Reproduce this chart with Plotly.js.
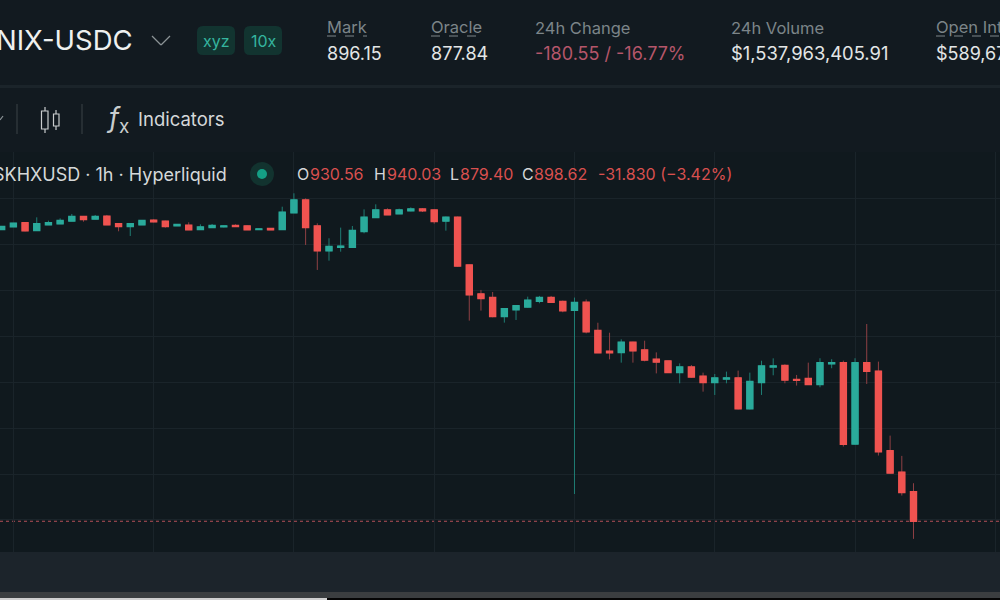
<!DOCTYPE html>
<html>
<head>
<meta charset="utf-8">
<script src="https://cdn.plot.ly/plotly-3.0.1.min.js"></script>
<style>
html, body { margin: 0; padding: 0; background: #121a20; overflow: hidden; }
#chart { width: 1000px; height: 600px; }
</style>
</head>
<body>
<div id="chart"></div>
<script>
// hourly candles
var open = [1216.7,1219.6,1223.6,1215.6,1221.7,1222.8,1225.7,1230.5,1227.9,1230.8,1222.5,1219.9,1221.7,1226.5,1225.4,1220.7,1221,1216.7,1218.8,1219.6,
  1220.7,1220.3,1216.7,1217.4,1216.7,1234.8,1248.6,1220.3,1193.4,1197.1,1197.1,1214.5,1229.7,1237.7,1233.7,1237,1238.8,1237.7,1225.7,1229.7,
  1177.8,1146.2,1142.3,1121.9,1129.2,1132.1,1138.3,1142.3,1137.9,1128.5,1137.1,1106.2,1083.7,1082.6,1093.5,1085.2,1075,1073.2,1060.8,1066.6,
  1056.5,1049.9,1053.6,1054.7,1021.3,1049.9,1066.9,1068.2,1052.9,1054,1047.8,1070.3,1071.1,982.9,1071.1,1062,975.2,952,930.56]
var high = [1220.3,1223.6,1223.9,1229.7,1226.1,1228.6,1233.4,1231.2,1232.3,1232.3,1223.2,1223.2,1226.8,1227.6,1226.1,1222.1,1224.3,1222.1,1222.5,1221,
  1222.1,1221,1217.4,1218.1,1241.3,1255.9,1250.4,1223.2,1206.9,1218.5,1220.3,1238.4,1243.9,1239.5,1239.2,1240.6,1239.9,1238.4,1230.5,1230.5,
  1178.2,1150.6,1148.4,1130.6,1133.9,1143.3,1144.1,1144.1,1139,1142.3,1140.3,1114.9,1104,1096.8,1094.2,1095.3,1082.6,1073.5,1070.6,1068.8,
  1060.5,1059,1061.6,1062.7,1060.5,1073.5,1076.1,1069.6,1058,1071.4,1076.2,1075.1,1073.6,1076.2,1113.5,1072.5,991.9,969.8,940.03]
var low = [1215.9,1219.6,1214.5,1215.2,1221.4,1222.8,1225.7,1225,1227.6,1221.4,1214.5,1209.4,1221.7,1224.3,1218.5,1220.3,1215.9,1215.9,1218.1,1218.8,
  1219.2,1215.9,1216.3,1215.9,1216.7,1234.8,1199.6,1172.4,1182.5,1192.3,1196.7,1212.3,1229,1232.3,1233.4,1236.3,1235.5,1222.8,1215.2,1176,
  1117.2,1128.1,1120.8,1115,1117.9,1131.4,1136.1,1136.8,1126.3,928.3,1103.3,1082.3,1075,1071.4,1071.4,1072.8,1059.7,1060.1,1048.9,1055,
  1039.8,1036.2,1048.9,1020.5,1020.5,1036.2,1057.6,1048.9,1046.4,1047.1,1044.6,1065.3,980,982.1,1048.2,970.2,950.9,926.6,879.4]
var close = [1219.6,1223.2,1215.2,1222.5,1223.6,1226.1,1230.5,1227.6,1230.5,1221.7,1219.9,1222.5,1226.1,1225,1219.9,1221.7,1216.3,1219.2,1220.7,1220.3,
  1219.9,1216.3,1217,1216.3,1235.2,1248.6,1218.8,1193.4,1197.8,1198.2,1215.2,1229.7,1237.7,1232.6,1237.7,1238.8,1237,1225.4,1229.7,1176.7,
  1145.5,1141.5,1121.9,1129.9,1133.2,1139.3,1142.3,1137.2,1128.1,1136.8,1105.1,1082.3,1082.3,1093.5,1084.4,1074.3,1072.1,1060.8,1066.6,1055.8,
  1049.9,1054.7,1054.7,1021.3,1050.7,1067.7,1067.7,1052.6,1052.2,1047.8,1071.1,1071.1,982.5,1071.1,1062,974.5,951.3,929.9,898.62]
var lastPrice = 898.62
var gridPrices = [900,950,1000,1050,1100,1150,1200,1250,1300]
var gridHours = [1,13,25,37,49,61,73,85]

var hours = open.map(function(v, i) { return i })
var bodyHigh = open.map(function(v, i) { return Math.max(v, close[i]) })
var bodyLow = open.map(function(v, i) { return Math.min(v, close[i]) })

var UP = '#2aaa9b'
var DOWN = '#ef5350'
var UP_WICK = '#1f7d74'
var DOWN_WICK = '#8f4044'
var CHART_BG = '#10191e'
var TOP_BG = '#121a20'
var GREY = '#7c8589'
var LIGHT = '#e3e6e6'
var FONT = 'Inter, "Noto Sans", sans-serif'

// wicks underneath, bright bodies on top
var wicks = {
  type: 'candlestick', x: hours, open: open, high: high, low: low, close: close,
  whiskerwidth: 0, hoverinfo: 'skip', showlegend: false,
  increasing: {line: {color: UP_WICK, width: 1}, fillcolor: UP_WICK},
  decreasing: {line: {color: DOWN_WICK, width: 1}, fillcolor: DOWN_WICK}
}
var bodies = {
  type: 'candlestick', x: hours, open: open, high: bodyHigh, low: bodyLow, close: close,
  whiskerwidth: 0, hoverinfo: 'skip', showlegend: false,
  increasing: {line: {color: UP, width: 1.7}, fillcolor: UP},
  decreasing: {line: {color: DOWN, width: 1.7}, fillcolor: DOWN}
}

// page pixel to paper coords, the figure has no margins
function px(x) { return x / 1000 }
function py(y) { return 1 - y / 600 }

function txt(x, y, text, size, color, anchor) {
  return {
    xref: 'paper', yref: 'paper', x: px(x), y: py(y), text: text, showarrow: false,
    xanchor: anchor || 'left', yanchor: 'middle', align: 'left', borderpad: 0,
    font: {family: FONT, size: size, color: color}
  }
}

var annotations = [
  txt(134, 40, 'NIX-USDC', 27.5, '#eef0ef', 'right'),
  txt(202, 41, 'xyz', 16, '#35b59f'),
  txt(250, 41, '10x', 16, '#35b59f'),
  txt(326, 27, 'Mark', 16.5, GREY),
  txt(326, 53, '896.15', 18, LIGHT),
  txt(430, 27, 'Oracle', 16.5, GREY),
  txt(430, 53, '877.84', 18, LIGHT),
  txt(534, 28, '24h Change', 16.5, GREY),
  txt(534, 53, '-180.55 / -16.77%', 18, '#b5566a'),
  txt(730, 28, '24h Volume', 16.5, GREY),
  txt(730, 53, '$1,537,963,405.91', 18.4, LIGHT),
  txt(935, 27, 'Open Interest', 16.5, GREY),
  txt(935, 53, '$589,67', 18, LIGHT),
  txt(105, 120, '<i>f</i><sub>x</sub>', 27, '#c9cdce'),
  txt(137, 119, 'Indicators', 18.5, '#d5d8d9'),
  txt(228, 174, 'SKHXUSD · 1h · Hyperliquid', 18, '#d5d8d9', 'right'),
  txt(296, 174, 'O', 16, '#d5d8d9'),
  txt(309, 174, '930.56', 16, '#d9504f'),
  txt(373, 174, 'H', 16, '#d5d8d9'),
  txt(386, 174, '940.03', 16, '#d9504f'),
  txt(449, 174, 'L', 16, '#d5d8d9'),
  txt(459, 174, '879.40', 16, '#d9504f'),
  txt(521, 174, 'C', 16, '#d5d8d9'),
  txt(533, 174, '898.62', 16, '#d9504f'),
  txt(597, 174, '-31.830 (−3.42%)', 16, '#d9504f')
]

function box(x0, y0, x1, y1, color) {
  return {type: 'rect', xref: 'paper', yref: 'paper', layer: 'below', x0: px(x0), x1: px(x1), y0: py(y0), y1: py(y1),
    fillcolor: color, line: {width: 0}}
}
function seg(x0, y0, x1, y1, color, width, dash) {
  return {type: 'line', xref: 'paper', yref: 'paper', layer: 'above', x0: px(x0), x1: px(x1), y0: py(y0), y1: py(y1),
    line: {color: color, width: width || 1, dash: dash || 'solid'}}
}
function badge(x0, y0, x1, y1, r, color) {
  var d = 'M' + px(x0 + r) + ',' + py(y0) + ' L' + px(x1 - r) + ',' + py(y0) +
    ' Q' + px(x1) + ',' + py(y0) + ' ' + px(x1) + ',' + py(y0 + r) +
    ' L' + px(x1) + ',' + py(y1 - r) + ' Q' + px(x1) + ',' + py(y1) + ' ' + px(x1 - r) + ',' + py(y1) +
    ' L' + px(x0 + r) + ',' + py(y1) + ' Q' + px(x0) + ',' + py(y1) + ' ' + px(x0) + ',' + py(y1 - r) +
    ' L' + px(x0) + ',' + py(y0 + r) + ' Q' + px(x0) + ',' + py(y0) + ' ' + px(x0 + r) + ',' + py(y0) + ' Z'
  return {type: 'path', xref: 'paper', yref: 'paper', layer: 'below', path: d, fillcolor: color, line: {width: 0}}
}
function dot(cx, cy, r, color) {
  return {type: 'circle', xref: 'paper', yref: 'paper', layer: 'above', x0: px(cx - r), x1: px(cx + r), y0: py(cy - r), y1: py(cy + r),
    fillcolor: color, line: {width: 0}}
}

var ICON = '#c9cdce'
var shapes = [
  box(0, 85, 1000, 88, '#1b242a'),
  box(0, 552, 1000, 592, '#1c242b'),
  box(0, 592, 1000, 598, '#3b3e40'),
  box(0, 598, 1000, 600, '#050505'),
  box(0, 598, 327, 600, '#cfcfcf'),
  badge(197, 26, 235, 55, 6, '#123430'),
  badge(244, 26, 282, 55, 6, '#123430'),
  seg(152, 36, 161, 45, '#8b9396', 1.3),
  seg(161, 45, 170, 36, '#8b9396', 1.3),
  seg(327, 36, 367, 36, GREY, 1, 'dash'),
  seg(431, 36, 482, 36, GREY, 1, 'dash'),
  seg(936, 36, 1000, 36, GREY, 1, 'dash'),
  seg(0, 120, 3, 116, '#8b9396', 1.2),
  seg(17, 104, 17, 134, '#3a4247'),
  seg(82, 104, 82, 134, '#3a4247'),
  // candle icon
  {type: 'rect', xref: 'paper', yref: 'paper', layer: 'above', x0: px(41.5), x1: px(48), y0: py(111), y1: py(129), line: {color: ICON, width: 1.2}},
  {type: 'rect', xref: 'paper', yref: 'paper', layer: 'above', x0: px(53.5), x1: px(59), y0: py(114), y1: py(126), line: {color: ICON, width: 1.2}},
  seg(45, 107, 45, 111, ICON, 1.2),
  seg(45, 129, 45, 133, ICON, 1.2),
  seg(56, 110, 56, 114, ICON, 1.2),
  seg(56, 126, 56, 130, ICON, 1.2),
  dot(262, 174, 12, '#12332f'),
  dot(262, 174, 5, '#14a085'),
  // last price line
  {type: 'line', xref: 'paper', yref: 'y', layer: 'below', x0: 0, x1: 1, y0: lastPrice, y1: lastPrice,
    line: {color: '#b5505a', width: 1.2, dash: 'dot'}}
]

var layout = {
  width: 1000, height: 600,
  margin: {l: 0, r: 0, t: 0, b: 0},
  paper_bgcolor: TOP_BG,
  plot_bgcolor: CHART_BG,
  showlegend: false,
  dragmode: false,
  xaxis: {
    range: [-0.143, 85.4], domain: [0, 1], tickmode: 'array', tickvals: gridHours, showticklabels: false,
    ticks: '', gridcolor: '#1a242a', gridwidth: 1, zeroline: false, showline: false,
    rangeslider: {visible: false}
  },
  yaxis: {
    range: [865.1, 1300.9], domain: [48 / 600, 448 / 600], tickmode: 'array', tickvals: gridPrices, showticklabels: false,
    ticks: '', gridcolor: '#1a242a', gridwidth: 1, zeroline: false, showline: false
  },
  shapes: shapes,
  annotations: annotations
}

Plotly.newPlot('chart', [wicks, bodies], layout, {displayModeBar: false, staticPlot: true})
</script>
</body>
</html>
